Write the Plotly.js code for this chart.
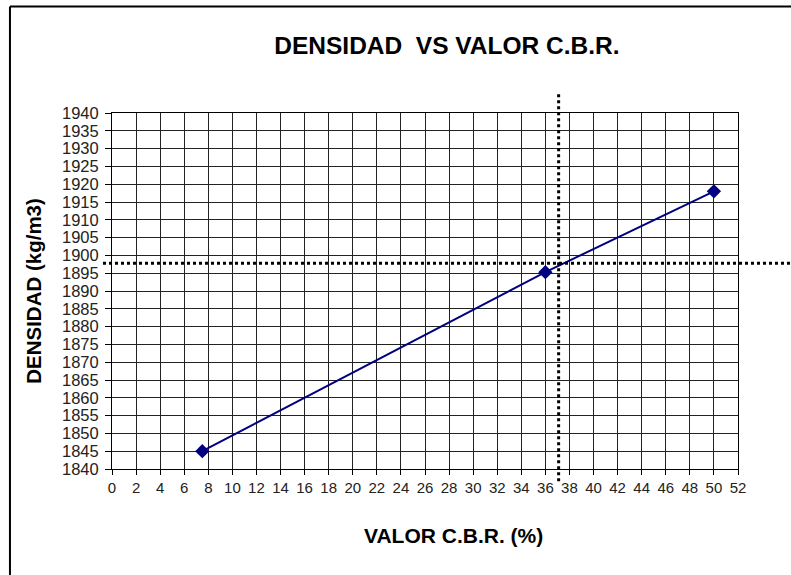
<!DOCTYPE html>
<html>
<head>
<meta charset="utf-8">
<script src="https://cdn.plot.ly/plotly-3.0.1.min.js"></script>
<style>
html,body{margin:0;padding:0;background:#fff;}
#chart{width:791px;height:575px;}
</style>
</head>
<body>
<div id="chart"></div>
<script>
// Data
const cbrValues = [7.5, 36, 50];           // VALOR C.B.R. (%)
const densityValues = [1845, 1895.3, 1918]; // DENSIDAD (kg/m3)
const designCBR = [37.1];                   // vertical dotted reference line
const designDensity = [1897.8];             // horizontal dotted reference line
const xTickVals = [0,2,4,6,8,10,12,14,16,18,20,22,24,26,28,30,32,34,36,38,40,42,44,46,48,50,52];
const yTickVals = [1840,1845,1850,1855,1860,1865,1870,1875,1880,1885,1890,1895,1900,1905,1910,1915,1920,1925,1930,1935,1940];

const trace = {
  x: cbrValues,
  y: densityValues,
  type: 'scatter',
  mode: 'lines+markers',
  line: {color: '#000080', width: 2},
  marker: {symbol: 'diamond', size: 11, color: '#000080'},
  cliponaxis: false,
  showlegend: false,
  hoverinfo: 'x+y'
};

const font = {family: 'Liberation Sans, Arial, sans-serif', color: '#000'};

const layout = {
  width: 791,
  height: 575,
  paper_bgcolor: '#fff',
  plot_bgcolor: '#fff',
  margin: {l: 112, r: 53, t: 113, b: 106},
  title: {
    text: 'DENSIDAD&nbsp; VS VALOR C.B.R.',
    font: {family: font.family, size: 24.5, color: '#000', weight: 'bold'},
    x: 0.565, xref: 'container', xanchor: 'center',
    y: 0.921, yref: 'container', yanchor: 'middle'
  },
  xaxis: {
    range: [0, 52],
    tickvals: xTickVals,
    ticktext: xTickVals.map(String),
    ticks: 'outside', ticklen: 5, tickcolor: '#000', tickwidth: 1,
    tickfont: {family: font.family, size: 15, color: '#222'},
    showgrid: true, gridcolor: '#222', gridwidth: 1,
    showline: true, linecolor: '#000', linewidth: 1, mirror: true,
    zeroline: false,
    title: {text: ''},
    automargin: false
  },
  yaxis: {
    range: [1840, 1940],
    tickvals: yTickVals,
    ticktext: yTickVals.map(String),
    ticks: 'outside', ticklen: 6, tickcolor: '#000', tickwidth: 1,
    ticklabelstandoff: 3,
    tickfont: {family: font.family, size: 16.5, color: '#222'},
    showgrid: true, gridcolor: '#222', gridwidth: 1,
    showline: true, linecolor: '#000', linewidth: 1, mirror: true,
    zeroline: false,
    title: {text: 'DENSIDAD (kg/m3)', font: {family: font.family, size: 20.5, color: '#000', weight: 'bold'}, standoff: 14},
    automargin: false
  },
  annotations: [
    {text: 'VALOR C.B.R. (%)', xref: 'paper', yref: 'paper', x: (453 - 112) / 626, y: (469 - 535) / 356,
     xanchor: 'center', yanchor: 'middle', showarrow: false,
     font: {family: font.family, size: 21, color: '#000', weight: 'bold'}}
  ],
  shapes: [
    // outer frame (left and top edges visible)
    {type: 'line', xref: 'paper', yref: 'paper', x0: -0.163, x1: -0.163, y0: 1.299, y1: -0.32, line: {color: '#000', width: 2}},
    {type: 'line', xref: 'paper', yref: 'paper', x0: -0.163, x1: 1.09, y0: 1.299, y1: 1.299, line: {color: '#000', width: 2}},
    // dotted reference lines
    {type: 'line', xref: 'x', yref: 'paper', x0: designCBR[0], x1: designCBR[0], y0: 1.053, y1: -0.039, line: {color: '#000', width: 3, dash: 'dot'}},
    {type: 'line', xref: 'paper', yref: 'y', x0: -0.0144, x1: 1.083, y0: designDensity[0], y1: designDensity[0], line: {color: '#000', width: 3, dash: 'dot'}}
  ]
};

Plotly.newPlot('chart', [trace], layout, {displayModeBar: false, staticPlot: true});
</script>
</body>
</html>
